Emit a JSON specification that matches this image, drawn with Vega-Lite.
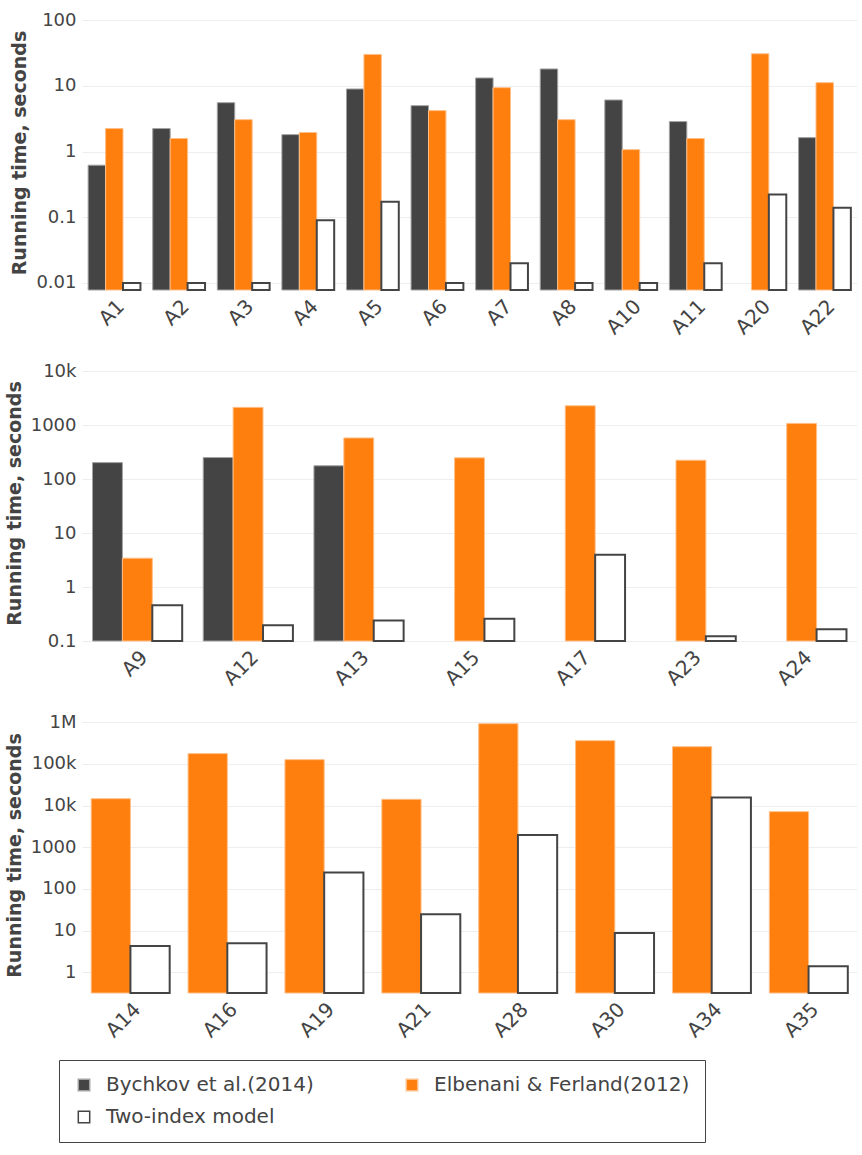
{
  "$schema": "https://vega.github.io/schema/vega-lite/v6.json",
  "description": "Running time of three solution methods, log scale, in three groups of instances",
  "padding": {"left": 5, "top": 11, "right": 5, "bottom": 5},
  "data": {
    "values": [
      {"panel": 1, "inst": "A1", "series": "Bychkov et al.(2014)", "time": 0.62},
      {"panel": 1, "inst": "A1", "series": "Elbenani & Ferland(2012)", "time": 2.24},
      {"panel": 1, "inst": "A1", "series": "Two-index model", "time": 0.01},
      {"panel": 1, "inst": "A2", "series": "Bychkov et al.(2014)", "time": 2.24},
      {"panel": 1, "inst": "A2", "series": "Elbenani & Ferland(2012)", "time": 1.58},
      {"panel": 1, "inst": "A2", "series": "Two-index model", "time": 0.01},
      {"panel": 1, "inst": "A3", "series": "Bychkov et al.(2014)", "time": 5.55},
      {"panel": 1, "inst": "A3", "series": "Elbenani & Ferland(2012)", "time": 3.06},
      {"panel": 1, "inst": "A3", "series": "Two-index model", "time": 0.01},
      {"panel": 1, "inst": "A4", "series": "Bychkov et al.(2014)", "time": 1.81},
      {"panel": 1, "inst": "A4", "series": "Elbenani & Ferland(2012)", "time": 1.95},
      {"panel": 1, "inst": "A4", "series": "Two-index model", "time": 0.09},
      {"panel": 1, "inst": "A5", "series": "Bychkov et al.(2014)", "time": 8.97},
      {"panel": 1, "inst": "A5", "series": "Elbenani & Ferland(2012)", "time": 30.1},
      {"panel": 1, "inst": "A5", "series": "Two-index model", "time": 0.172},
      {"panel": 1, "inst": "A6", "series": "Bychkov et al.(2014)", "time": 5.0},
      {"panel": 1, "inst": "A6", "series": "Elbenani & Ferland(2012)", "time": 4.2},
      {"panel": 1, "inst": "A6", "series": "Two-index model", "time": 0.01},
      {"panel": 1, "inst": "A7", "series": "Bychkov et al.(2014)", "time": 13.2},
      {"panel": 1, "inst": "A7", "series": "Elbenani & Ferland(2012)", "time": 9.4},
      {"panel": 1, "inst": "A7", "series": "Two-index model", "time": 0.02},
      {"panel": 1, "inst": "A8", "series": "Bychkov et al.(2014)", "time": 18.1},
      {"panel": 1, "inst": "A8", "series": "Elbenani & Ferland(2012)", "time": 3.06},
      {"panel": 1, "inst": "A8", "series": "Two-index model", "time": 0.01},
      {"panel": 1, "inst": "A10", "series": "Bychkov et al.(2014)", "time": 6.1},
      {"panel": 1, "inst": "A10", "series": "Elbenani & Ferland(2012)", "time": 1.07},
      {"panel": 1, "inst": "A10", "series": "Two-index model", "time": 0.01},
      {"panel": 1, "inst": "A11", "series": "Bychkov et al.(2014)", "time": 2.86},
      {"panel": 1, "inst": "A11", "series": "Elbenani & Ferland(2012)", "time": 1.58},
      {"panel": 1, "inst": "A11", "series": "Two-index model", "time": 0.02},
      {"panel": 1, "inst": "A20", "series": "Elbenani & Ferland(2012)", "time": 30.8},
      {"panel": 1, "inst": "A20", "series": "Two-index model", "time": 0.222},
      {"panel": 1, "inst": "A22", "series": "Bychkov et al.(2014)", "time": 1.63},
      {"panel": 1, "inst": "A22", "series": "Elbenani & Ferland(2012)", "time": 11.2},
      {"panel": 1, "inst": "A22", "series": "Two-index model", "time": 0.139},

      {"panel": 2, "inst": "A9", "series": "Bychkov et al.(2014)", "time": 204},
      {"panel": 2, "inst": "A9", "series": "Elbenani & Ferland(2012)", "time": 3.44},
      {"panel": 2, "inst": "A9", "series": "Two-index model", "time": 0.46},
      {"panel": 2, "inst": "A12", "series": "Bychkov et al.(2014)", "time": 253},
      {"panel": 2, "inst": "A12", "series": "Elbenani & Ferland(2012)", "time": 2160},
      {"panel": 2, "inst": "A12", "series": "Two-index model", "time": 0.196},
      {"panel": 2, "inst": "A13", "series": "Bychkov et al.(2014)", "time": 178},
      {"panel": 2, "inst": "A13", "series": "Elbenani & Ferland(2012)", "time": 585},
      {"panel": 2, "inst": "A13", "series": "Two-index model", "time": 0.239},
      {"panel": 2, "inst": "A15", "series": "Elbenani & Ferland(2012)", "time": 250},
      {"panel": 2, "inst": "A15", "series": "Two-index model", "time": 0.26},
      {"panel": 2, "inst": "A17", "series": "Elbenani & Ferland(2012)", "time": 2310},
      {"panel": 2, "inst": "A17", "series": "Two-index model", "time": 3.97},
      {"panel": 2, "inst": "A23", "series": "Elbenani & Ferland(2012)", "time": 226},
      {"panel": 2, "inst": "A23", "series": "Two-index model", "time": 0.123},
      {"panel": 2, "inst": "A24", "series": "Elbenani & Ferland(2012)", "time": 1090},
      {"panel": 2, "inst": "A24", "series": "Two-index model", "time": 0.165},

      {"panel": 3, "inst": "A14", "series": "Elbenani & Ferland(2012)", "time": 14600},
      {"panel": 3, "inst": "A14", "series": "Two-index model", "time": 4.3},
      {"panel": 3, "inst": "A16", "series": "Elbenani & Ferland(2012)", "time": 176000},
      {"panel": 3, "inst": "A16", "series": "Two-index model", "time": 4.96},
      {"panel": 3, "inst": "A19", "series": "Elbenani & Ferland(2012)", "time": 126000},
      {"panel": 3, "inst": "A19", "series": "Two-index model", "time": 247},
      {"panel": 3, "inst": "A21", "series": "Elbenani & Ferland(2012)", "time": 14100},
      {"panel": 3, "inst": "A21", "series": "Two-index model", "time": 24.6},
      {"panel": 3, "inst": "A28", "series": "Elbenani & Ferland(2012)", "time": 920000},
      {"panel": 3, "inst": "A28", "series": "Two-index model", "time": 1960},
      {"panel": 3, "inst": "A30", "series": "Elbenani & Ferland(2012)", "time": 360000},
      {"panel": 3, "inst": "A30", "series": "Two-index model", "time": 8.76},
      {"panel": 3, "inst": "A34", "series": "Elbenani & Ferland(2012)", "time": 258000},
      {"panel": 3, "inst": "A34", "series": "Two-index model", "time": 15700},
      {"panel": 3, "inst": "A35", "series": "Elbenani & Ferland(2012)", "time": 7140},
      {"panel": 3, "inst": "A35", "series": "Two-index model", "time": 1.39}
    ]
  },
  "spacing": 24,
  "resolve": {"scale": {"x": "independent", "xOffset": "independent", "y": "independent"}},
  "vconcat": [
    {
      "width": 775,
      "height": 275,
      "transform": [{"filter": "datum.panel === 1"}],
      "mark": {"type": "bar"},
      "encoding": {
        "x": {"field": "inst", "type": "nominal", "sort": null, "title": null,
          "scale": {"paddingInner": 0.19, "paddingOuter": 0.095}},
        "xOffset": {"field": "series", "type": "nominal",
          "scale": {"domain": ["Bychkov et al.(2014)", "Elbenani & Ferland(2012)", "Two-index model"], "paddingInner": 0}},
        "y": {"field": "time", "type": "quantitative", "title": "Running time, seconds",
          "scale": {"type": "log", "domain": [0.0078, 120], "nice": false},
          "axis": {"values": [0.01, 0.1, 1, 10, 100],
            "labelExpr": "datum.value >= 10000 ? format(datum.value, '~s') : format(datum.value, '~r')"}},
        "y2": {"datum": 0.0078},
        "fill": {"field": "series", "type": "nominal",
          "scale": {"domain": ["Bychkov et al.(2014)", "Elbenani & Ferland(2012)", "Two-index model"], "range": ["#444444", "#ff7f0e", "#ffffff"]}},
        "stroke": {"field": "series", "type": "nominal",
          "scale": {"domain": ["Bychkov et al.(2014)", "Elbenani & Ferland(2012)", "Two-index model"], "range": ["#a2a2a2", "#ffbf87", "#444444"]}},
        "strokeWidth": {"condition": {"test": "datum.series === 'Two-index model'", "value": 2}, "value": 1}
      }
    },
    {
      "width": 775,
      "height": 276,
      "transform": [{"filter": "datum.panel === 2"}],
      "mark": {"type": "bar"},
      "encoding": {
        "x": {"field": "inst", "type": "nominal", "sort": null, "title": null,
          "scale": {"paddingInner": 0.19, "paddingOuter": 0.095}},
        "xOffset": {"field": "series", "type": "nominal",
          "scale": {"domain": ["Bychkov et al.(2014)", "Elbenani & Ferland(2012)", "Two-index model"], "paddingInner": 0}},
        "y": {"field": "time", "type": "quantitative", "title": "Running time, seconds",
          "scale": {"type": "log", "domain": [0.1, 13200], "nice": false},
          "axis": {"values": [0.1, 1, 10, 100, 1000, 10000],
            "labelExpr": "datum.value >= 10000 ? format(datum.value, '~s') : format(datum.value, '~r')"}},
        "y2": {"datum": 0.1},
        "fill": {"field": "series", "type": "nominal"},
        "stroke": {"field": "series", "type": "nominal"},
        "strokeWidth": {"condition": {"test": "datum.series === 'Two-index model'", "value": 2}, "value": 1}
      }
    },
    {
      "width": 775,
      "height": 276,
      "transform": [{"filter": "datum.panel === 3"}],
      "mark": {"type": "bar"},
      "encoding": {
        "x": {"field": "inst", "type": "nominal", "sort": null, "title": null,
          "scale": {"paddingInner": 0.19, "paddingOuter": 0.095}},
        "xOffset": {"field": "series", "type": "nominal",
          "scale": {"domain": ["Elbenani & Ferland(2012)", "Two-index model"], "paddingInner": 0}},
        "y": {"field": "time", "type": "quantitative", "title": "Running time, seconds",
          "scale": {"type": "log", "domain": [0.319, 1330000], "nice": false},
          "axis": {"values": [1, 10, 100, 1000, 10000, 100000, 1000000],
            "labelExpr": "datum.value >= 10000 ? format(datum.value, '~s') : format(datum.value, '~r')"}},
        "y2": {"datum": 0.319},
        "fill": {"field": "series", "type": "nominal"},
        "stroke": {"field": "series", "type": "nominal"},
        "strokeWidth": {"condition": {"test": "datum.series === 'Two-index model'", "value": 2}, "value": 1}
      }
    }
  ],
  "config": {
    "font": "DejaVu Sans",
    "view": {"stroke": null},
    "axis": {
      "domain": false,
      "ticks": false,
      "grid": true,
      "gridColor": "#eeeeee",
      "labelColor": "#444444",
      "labelFont": "DejaVu Sans",
      "labelFontSize": 18,
      "titleColor": "#444444",
      "titleFont": "DejaVu Sans",
      "titleFontSize": 19,
      "titleFontWeight": "bold"
    },
    "axisX": {"grid": false, "labelAngle": -45, "labelPadding": 6, "labelFontSize": 20},
    "axisY": {"labelPadding": 6, "titlePadding": 6},
    "legend": {
      "orient": "none",
      "legendX": -23,
      "legendY": 1045,
      "direction": "horizontal",
      "columns": 2,
      "title": null,
      "symbolType": "square",
      "symbolSize": 130,
      "symbolOffset": 0,
      "labelOffset": 12,
      "labelFont": "DejaVu Sans",
      "labelFontSize": 20,
      "labelColor": "#444444",
      "labelLimit": 400,
      "columnPadding": 88,
      "rowPadding": 12,
      "padding": 15,
      "strokeColor": "#444444"
    }
  }
}
